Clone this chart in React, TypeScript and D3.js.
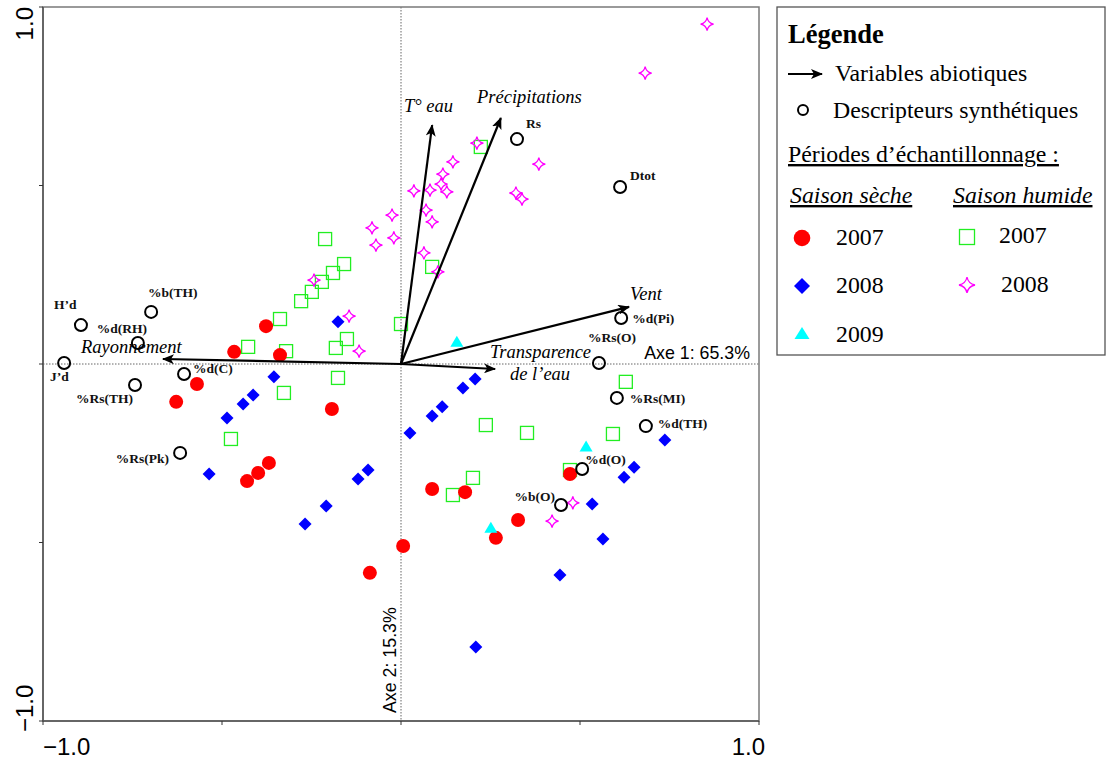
import React from "react";
import * as d3 from "d3";

// ---------- DATA ----------
// Abiotic variables (arrows): [name, axis1, axis2]
const arrowNames = ["T° eau", "Précipitations", "Vent", "Transparence", "Rayonnement"];
const arrowX = [0.087, 0.279, 0.637, 0.263, -0.665];
const arrowY = [0.669, 0.689, 0.16, -0.014, 0.014];

// Synthetic descriptors (open circles)
const descNames = ["Rs", "Dtot", "%d(Pi)", "%Rs(O)", "%Rs(MI)", "%d(TH)", "%d(O)", "%b(O)", "H’d", "%b(TH)", "%d(RH)", "J’d", "%d(C)", "%Rs(TH)", "%Rs(Pk)"];
const descX = [0.324, 0.612, 0.615, 0.553, 0.603, 0.684, 0.506, 0.447, -0.894, -0.698, -0.735, -0.941, -0.606, -0.743, -0.617];
const descY = [0.63, 0.496, 0.129, 0.003, -0.095, -0.174, -0.294, -0.395, 0.109, 0.146, 0.059, 0.003, -0.028, -0.059, -0.249];

// Dry season 2007
const dry2007X = [-0.377, -0.466, -0.338, -0.57, -0.628, -0.193, -0.369, -0.399, -0.43, -0.087, 0.006, 0.087, 0.179, 0.327, 0.265, 0.472];
const dry2007Y = [0.106, 0.034, 0.025, -0.056, -0.106, -0.126, -0.277, -0.305, -0.328, -0.585, -0.51, -0.35, -0.359, -0.437, -0.487, -0.308];
// Dry season 2008
const dry2008X = [-0.176, -0.355, -0.413, -0.441, -0.486, -0.536, -0.092, -0.12, -0.209, -0.268, 0.207, 0.173, 0.115, 0.087, 0.025, 0.737, 0.651, 0.623, 0.534, 0.564, 0.444, 0.209];
const dry2008Y = [0.118, -0.036, -0.087, -0.112, -0.151, -0.308, -0.297, -0.322, -0.398, -0.448, -0.042, -0.067, -0.12, -0.146, -0.193, -0.213, -0.289, -0.317, -0.392, -0.49, -0.591, -0.793];
// Dry season 2009
const dry2009X = [0.156, 0.517, 0.251];
const dry2009Y = [0.064, -0.23, -0.457];
// Wet season 2007
const wet2007X = [-0.212, -0.159, -0.19, -0.221, -0.249, -0.279, -0.338, -0.151, -0.182, -0.427, -0.321, 0.0, 0.223, 0.087, -0.176, -0.327, -0.475, 0.628, 0.237, 0.352, 0.592, 0.201, 0.145, 0.472];
const wet2007Y = [0.35, 0.28, 0.255, 0.23, 0.202, 0.176, 0.126, 0.07, 0.045, 0.048, 0.036, 0.112, 0.608, 0.272, -0.039, -0.081, -0.21, -0.05, -0.171, -0.193, -0.196, -0.319, -0.367, -0.297];
// Wet season 2008
const wet2008X = [0.855, 0.682, 0.212, 0.145, 0.385, 0.117, 0.036, 0.081, 0.112, 0.128, 0.321, 0.338, 0.07, 0.087, 0.064, 0.103, -0.025, -0.081, -0.02, -0.07, -0.243, -0.145, -0.117, 0.48, 0.422];
const wet2008Y = [0.952, 0.815, 0.619, 0.566, 0.56, 0.532, 0.485, 0.487, 0.504, 0.482, 0.479, 0.462, 0.431, 0.398, 0.311, 0.258, 0.417, 0.381, 0.353, 0.333, 0.235, 0.134, 0.036, -0.389, -0.44];

const tickValues = [-1, -0.5, 0, 0.5, 1];
const axis1Label = "Axe 1: 65.3%";
const axis2Label = "Axe 2: 15.3%";

// ---------- LAYOUT (positions / styles) ----------
const W = 1106;
const H = 762;
const PL = 43, PR = 759, PT = 7, PB = 721;
const SERIF = "'Liberation Serif', 'Times New Roman', serif";
const SANS = "'Liberation Sans', Arial, sans-serif";
const LEG_FS = 23.8;

const descLabelPos: Record<string, [number, number, string]> = {
  "Rs": [9, -11, "start"],
  "Dtot": [10, -7, "start"],
  "%d(Pi)": [11, 5, "start"],
  "%Rs(O)": [-11, -21, "start"],
  "%Rs(MI)": [13, 5, "start"],
  "%d(TH)": [12, 2, "start"],
  "%d(O)": [3, -5, "start"],
  "%b(O)": [-6, -4, "end"],
  "H’d": [-27, -16, "start"],
  "%b(TH)": [-3, -15, "start"],
  "%d(RH)": [-41, -10, "start"],
  "J’d": [-14, 18, "start"],
  "%d(C)": [9, -1, "start"],
  "%Rs(TH)": [-2, 18, "end"],
  "%Rs(Pk)": [-11, 10, "end"],
};

const arrowLabelPos: Record<string, [number, number]> = {
  "T° eau": [404, 112],
  "Précipitations": [477, 103],
  "Vent": [630, 300],
  "Transparence": [490, 358],
  "Rayonnement": [81, 353],
};

function starPath(r: number) {
  const k = r * 0.16;
  return `M0,${-r} Q${k},${-k} ${r},0 Q${k},${k} 0,${r} Q${-k},${k} ${-r},0 Q${-k},${-k} 0,${-r}Z`;
}
function diamondPath(r: number) {
  return `M0,${-r} L${r},0 L0,${r} L${-r},0Z`;
}
function trianglePath(w: number, h: number) {
  return `M0,${-h / 2} L${w / 2},${h / 2} L${-w / 2},${h / 2}Z`;
}

const RED = "#ff0000";
const BLUE = "#0000ff";
const CYAN = "#00ffff";
const GREEN = "#22ee22";
const MAGENTA = "#ff00ff";

export default function App() {
  const x = d3.scaleLinear().domain([-1, 1]).range([PL, PR]);
  const y = d3.scaleLinear().domain([-1, 1]).range([PB, PT]);
  const x0 = x(0);
  const y0 = y(0);

  const zip = (xs: number[], ys: number[]) => xs.map((v, i) => [x(v), y(ys[i])]);

  return (
    <svg
      width={W}
      height={H}
      style={{ position: "absolute", left: 0, top: 0, background: "#fff" }}
      xmlns="http://www.w3.org/2000/svg"
    >
      <defs>
        <marker id="ah" viewBox="0 0 12 10" refX="11" refY="5" markerWidth="12" markerHeight="10" markerUnits="userSpaceOnUse" orient="auto">
          <path d="M0,0 L12,5 L0,10 L3,5 Z" fill="#000" />
        </marker>
      </defs>
      <rect x={0} y={0} width={W} height={H} fill="#fff" />

      {/* zero lines */}
      <line x1={PL} x2={PR} y1={y0} y2={y0} stroke="#666" strokeWidth={1} strokeDasharray="1.5,1.5" />
      <line x1={x0} x2={x0} y1={PT} y2={PB} stroke="#666" strokeWidth={1} strokeDasharray="1.5,1.5" />

      {/* frame */}
      <rect x={PL} y={PT} width={PR - PL} height={PB - PT} fill="none" stroke="#7a7a7a" strokeWidth={1.5} />
      <line x1={PL} x2={PL} y1={PT} y2={PB} stroke="#555" strokeWidth={1.5} />
      <line x1={PL} x2={PR} y1={PB} y2={PB} stroke="#555" strokeWidth={1.5} />
      {tickValues.map((t) => (
        <line key={"ty" + t} x1={PL - 4} x2={PL} y1={y(t)} y2={y(t)} stroke="#333" strokeWidth={1} />
      ))}
      {tickValues.map((t) => (
        <line key={"tx" + t} x1={x(t)} x2={x(t)} y1={PB} y2={PB + 4} stroke="#333" strokeWidth={1} />
      ))}
      {/* tick labels */}
      <text transform={`translate(33,${y(1)}) rotate(-90)`} textAnchor="end" fontFamily={SANS} fontSize={24} fill="#000">
        {d3.format(".1f")(1)}
      </text>
      <text transform={`translate(33,${y(-1) + 11}) rotate(-90)`} textAnchor="start" fontFamily={SANS} fontSize={24} fill="#000">
        {d3.format(".1f")(-1)}
      </text>
      <text x={x(-1)} y={755} textAnchor="start" fontFamily={SANS} fontSize={24} fill="#000">
        {d3.format(".1f")(-1)}
      </text>
      <text x={x(1) + 6} y={755} textAnchor="end" fontFamily={SANS} fontSize={24} fill="#000">
        {d3.format(".1f")(1)}
      </text>

      {/* axis names */}
      <text x={750} y={359} textAnchor="end" fontFamily={SANS} fontSize={17.8} fill="#000">
        {axis1Label}
      </text>
      <text transform={`translate(396,713) rotate(-90)`} textAnchor="start" fontFamily={SANS} fontSize={17.8} fill="#000">
        {axis2Label}
      </text>

      {/* wet 2007 squares */}
      {zip(wet2007X, wet2007Y).map(([px, py], i) => (
        <rect key={"w7" + i} x={px - 6.5} y={py - 6.5} width={13} height={13} fill="none" stroke={GREEN} strokeWidth={1.3} />
      ))}
      {/* wet 2008 stars */}
      {zip(wet2008X, wet2008Y).map(([px, py], i) => (
        <path key={"w8" + i} d={starPath(6.5)} transform={`translate(${px},${py})`} fill="none" stroke={MAGENTA} strokeWidth={1.3} />
      ))}
      {/* dry 2007 circles */}
      {zip(dry2007X, dry2007Y).map(([px, py], i) => (
        <circle key={"d7" + i} cx={px} cy={py} r={7} fill={RED} />
      ))}
      {/* dry 2008 diamonds */}
      {zip(dry2008X, dry2008Y).map(([px, py], i) => (
        <path key={"d8" + i} d={diamondPath(6.5)} transform={`translate(${px},${py})`} fill={BLUE} />
      ))}
      {/* dry 2009 triangles */}
      {zip(dry2009X, dry2009Y).map(([px, py], i) => (
        <path key={"d9" + i} d={trianglePath(13, 11)} transform={`translate(${px},${py})`} fill={CYAN} />
      ))}

      {/* arrows */}
      {arrowNames.map((n, i) => (
        <line key={"a" + i} x1={x0} y1={y0} x2={x(arrowX[i])} y2={y(arrowY[i])} stroke="#000" strokeWidth={2.2} markerEnd="url(#ah)" />
      ))}
      {arrowNames.map((n) => {
        const [lx, ly] = arrowLabelPos[n];
        return (
          <text key={"al" + n} x={lx} y={ly} fontFamily={SERIF} fontStyle="italic" fontSize={18.5} fill="#000">
            {n}
          </text>
        );
      })}
      <text x={510} y={380} fontFamily={SERIF} fontStyle="italic" fontSize={18.5} fill="#000">
        de l’eau
      </text>

      {/* descriptors */}
      {descNames.map((n, i) => {
        const cx = x(descX[i]);
        const cy = y(descY[i]);
        const [dx, dy, anchor] = descLabelPos[n];
        return (
          <g key={"d" + n}>
            <circle cx={cx} cy={cy} r={6} fill="none" stroke="#000" strokeWidth={2} />
            <text x={cx + dx} y={cy + dy} textAnchor={anchor as any} fontFamily={SERIF} fontWeight="bold" fontSize={13.5} fill="#111">
              {n}
            </text>
          </g>
        );
      })}

      {/* legend */}
      <rect x={777} y={7} width={328} height={348} fill="#fff" stroke="#555" strokeWidth={1.3} />
      <text x={788} y={43} fontFamily={SERIF} fontWeight="bold" fontSize={26.5} fill="#000">Légende</text>
      <line x1={788} y1={74} x2={822} y2={74} stroke="#000" strokeWidth={2} markerEnd="url(#ah)" />
      <text x={835} y={81} fontFamily={SERIF} fontSize={LEG_FS} fill="#000">Variables abiotiques</text>
      <circle cx={803} cy={110} r={5} fill="none" stroke="#000" strokeWidth={2} />
      <text x={833} y={118} fontFamily={SERIF} fontSize={LEG_FS} fill="#000">Descripteurs synthétiques</text>
      <text x={788} y={162} fontFamily={SERIF} fontSize={LEG_FS} fill="#000" textDecoration="underline">Périodes d’échantillonnage :</text>
      <text x={790} y={203} fontFamily={SERIF} fontStyle="italic" fontSize={LEG_FS} fill="#000" textDecoration="underline">Saison sèche</text>
      <text x={953} y={203} fontFamily={SERIF} fontStyle="italic" fontSize={LEG_FS} fill="#000" textDecoration="underline">Saison humide</text>

      <circle cx={802} cy={238} r={8.3} fill={RED} />
      <text x={836} y={245} fontFamily={SERIF} fontSize={LEG_FS} fill="#000">2007</text>
      <path d={diamondPath(8)} transform="translate(802,286)" fill={BLUE} />
      <text x={836} y={293} fontFamily={SERIF} fontSize={LEG_FS} fill="#000">2008</text>
      <path d={trianglePath(15, 12)} transform="translate(802,333)" fill={CYAN} />
      <text x={836} y={342} fontFamily={SERIF} fontSize={LEG_FS} fill="#000">2009</text>

      <rect x={959.5} y={229.5} width={15} height={15} fill="none" stroke={GREEN} strokeWidth={1.3} />
      <text x={999} y={243} fontFamily={SERIF} fontSize={LEG_FS} fill="#000">2007</text>
      <path d={starPath(8)} transform="translate(967,285)" fill="none" stroke={MAGENTA} strokeWidth={1.3} />
      <text x={1001} y={292} fontFamily={SERIF} fontSize={LEG_FS} fill="#000">2008</text>
    </svg>
  );
}
